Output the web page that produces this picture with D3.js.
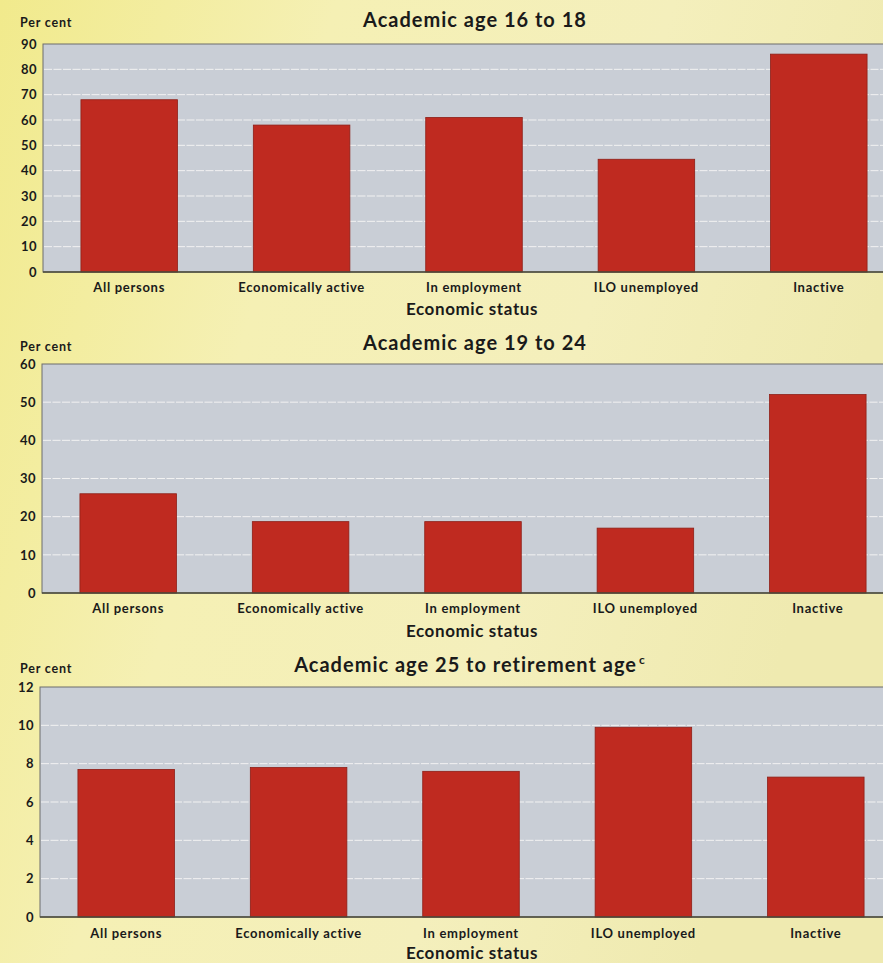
<!DOCTYPE html>
<html><head><meta charset="utf-8">
<script src="https://cdn.jsdelivr.net/npm/d3@7"></script>
<style>
html,body{margin:0;padding:0;overflow:hidden;}
svg{display:block;}
text{font-family:Lato,"Open Sans",sans-serif;font-weight:bold;fill:#1a1a1a;}
</style></head>
<body>
<svg id="chart" width="883" height="963"></svg>
<script>
const categories = ["All persons","Economically active","In employment","ILO unemployed","Inactive"];
const values16to18 = [68, 58, 61, 44.5, 86];
const values19to24 = [26, 18.7, 18.7, 17, 52];
const values25toRet = [7.7, 7.8, 7.6, 9.9, 7.3];
const ticks16to18 = [0,10,20,30,40,50,60,70,80,90];
const ticks19to24 = [0,10,20,30,40,50,60];
const ticks25toRet = [0,2,4,6,8,10,12];
const titles = ["Academic age 16 to 18","Academic age 19 to 24","Academic age 25 to retirement age"];
const xTitle = "Economic status";
const yUnit = "Per cent";

const svg = d3.select("#chart");
const defs = svg.append("defs");
const bg = defs.append("linearGradient").attr("id","bg").attr("x1","0").attr("y1","0").attr("x2","1").attr("y2","0.3");
bg.append("stop").attr("offset","0").attr("stop-color","#f1ea8c");
bg.append("stop").attr("offset","0.35").attr("stop-color","#f5f0b4");
bg.append("stop").attr("offset","0.7").attr("stop-color","#f4efbc");
bg.append("stop").attr("offset","1").attr("stop-color","#efeab0");
svg.append("rect").attr("width",883).attr("height",963).attr("fill","url(#bg)");

const panels = [
  {values: values16to18, ticks: ticks16to18, title: titles[0], sup: null, left: 43, top: 44, bottom: 272, titleY: 27, unitY: 27, labelY: 293, xTitleY: 315},
  {values: values19to24, ticks: ticks19to24, title: titles[1], sup: null, left: 42, top: 364, bottom: 593, titleY: 350, unitY: 351, labelY: 614, xTitleY: 637},
  {values: values25toRet, ticks: ticks25toRet, title: titles[2], sup: "c", left: 40, top: 687, bottom: 917, titleY: 672, unitY: 673, labelY: 939, xTitleY: 959}
];

panels.forEach(p => {
  const g = svg.append("g");
  const right = p.left + 862;
  const x = d3.scaleBand().domain(categories).range([p.left, right]).paddingInner(0.44).paddingOuter(0.22);
  const y = d3.scaleLinear().domain([0, d3.max(p.ticks)]).range([p.bottom, p.top]);

  g.append("rect").attr("x", p.left).attr("y", p.top).attr("width", right - p.left).attr("height", p.bottom - p.top)
    .attr("fill", "#c9ced6").attr("stroke", "#6d6d6d").attr("stroke-width", 1);

  g.selectAll("line.grid").data(p.ticks.slice(1, -1)).join("line").attr("class","grid")
    .attr("x1", p.left + 1).attr("x2", right).attr("y1", d => y(d)).attr("y2", d => y(d))
    .attr("stroke", "#f2f2f2").attr("stroke-width", 1).attr("stroke-dasharray", "8,1.5");

  g.selectAll("rect.bar").data(p.values).join("rect").attr("class","bar")
    .attr("x", (d,i) => x(categories[i])).attr("width", x.bandwidth())
    .attr("y", d => y(d)).attr("height", d => y(0) - y(d))
    .attr("fill", "#bf2a20").attr("stroke", "#8e1f17").attr("stroke-width", 0.8);

  g.append("line").attr("x1", p.left).attr("x2", right).attr("y1", p.bottom).attr("y2", p.bottom)
    .attr("stroke", "#4a4a3a").attr("stroke-width", 1.5);

  const ya = g.append("g").attr("transform", `translate(${p.left},0)`)
    .call(d3.axisLeft(y).tickValues(p.ticks).tickSize(0).tickPadding(6).tickFormat(d3.format("d")));
  ya.select(".domain").remove();
  ya.selectAll("text").style("font-size","13px").style("font-family","Lato, sans-serif").style("font-weight","bold").style("letter-spacing","0.5px").attr("fill","#1a1a1a");

  const xa = g.append("g").attr("transform", `translate(0,${p.labelY - 10})`)
    .call(d3.axisBottom(x).tickSize(0).tickPadding(0));
  xa.select(".domain").remove();
  xa.selectAll("text").style("font-size","13px").style("font-family","Lato, sans-serif").style("font-weight","bold").style("letter-spacing","0.7px").attr("fill","#1a1a1a").attr("dy","0.71em");

  g.append("text").attr("x", 20).attr("y", p.unitY).style("font-size","12.5px").style("letter-spacing","0.8px").text(yUnit);

  const t = g.append("text").attr("x", 475).attr("y", p.titleY).attr("text-anchor","middle")
    .style("font-size","20px").style("letter-spacing","1px").text(p.title);
  if (p.sup) {
    t.attr("x", 470);
    t.append("tspan").attr("dx", 2).attr("dy", -8).style("font-size","12px").text(p.sup);
  }

  g.append("text").attr("x", 472).attr("y", p.xTitleY).attr("text-anchor","middle")
    .style("font-size","17px").style("letter-spacing","0.6px").text(xTitle);
});
</script>
</body></html>
